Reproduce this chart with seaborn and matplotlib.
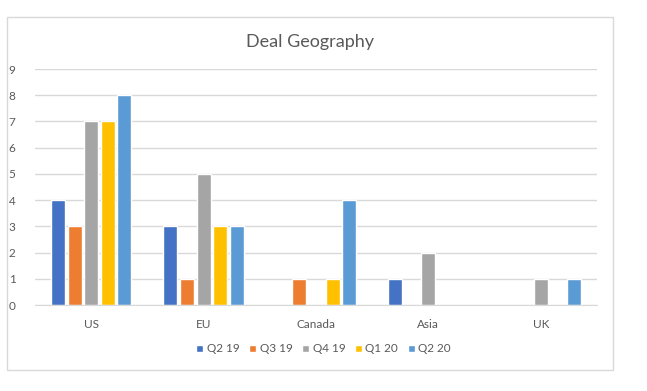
import pandas as pd
import matplotlib
matplotlib.use("Agg")
import matplotlib.pyplot as plt
import seaborn as sns
from matplotlib.patches import Rectangle

regions = ["US", "EU", "Canada", "Asia", "UK"]
quarters = ["Q2 19", "Q3 19", "Q4 19", "Q1 20", "Q2 20"]
q2_19 = [4, 3, 0, 1, 0]
q3_19 = [3, 1, 1, 0, 0]
q4_19 = [7, 5, 0, 2, 1]
q1_20 = [7, 3, 1, 0, 0]
q2_20 = [8, 3, 4, 0, 1]
colores = ["#4472C4", "#ED7D31", "#A5A5A5", "#FFC000", "#5B9BD5"]

tabela = pd.DataFrame({"Region": regions, "Q2 19": q2_19, "Q3 19": q3_19,
                       "Q4 19": q4_19, "Q1 20": q1_20, "Q2 20": q2_20})
tabela = tabela.melt(id_vars="Region", var_name="Quarter", value_name="Deals")

sns.set_style("white")
plt.rcParams["font.family"] = ["Lato", "DejaVu Sans"]
cinza = "#595959"

fig = plt.figure(figsize=(6.47, 3.91), dpi=100)
ax = fig.add_axes([35 / 647, 1 - 305 / 391, (597 - 35) / 647, (305 - 69) / 391])

sns.barplot(data=tabela, x="Region", y="Deals", hue="Quarter", hue_order=quarters,
            palette=colores, width=0.74, gap=0.16, saturation=1, ax=ax, legend=True)

ax.set_ylim(0, 9)
ax.set_xlim(-0.5, 4.5)
ax.set_yticks(range(0, 10))
ax.yaxis.grid(True, color="#D9D9D9", linewidth=1)
ax.set_axisbelow(True)
for lado in ["top", "right", "left"]:
    ax.spines[lado].set_visible(False)
ax.spines["bottom"].set_color("#D9D9D9")
ax.tick_params(axis="both", length=0, colors=cinza, labelsize=8.5)
ax.tick_params(axis="y", pad=14)
ax.tick_params(axis="x", pad=10)
ax.set_xlabel("")
ax.set_ylabel("")

ax.legend(loc="center", bbox_to_anchor=(0.5, 1 - 349 / 391), bbox_transform=fig.transFigure,
          ncol=5, frameon=False, fontsize=8.5, labelcolor=cinza, handlelength=0.6,
          handleheight=0.6, handletextpad=0.3, columnspacing=0.8)

fig.text(310 / 647, 1 - 42 / 391, "Deal Geography", ha="center", va="center",
         fontsize=13, color=cinza)

fig.patches.append(Rectangle((7 / 647, 1 - 370 / 391), (613 - 7) / 647, (370 - 17) / 391,
                             transform=fig.transFigure, fill=False,
                             edgecolor="#D9D9D9", linewidth=1))

fig.savefig("out.png", dpi=100)
